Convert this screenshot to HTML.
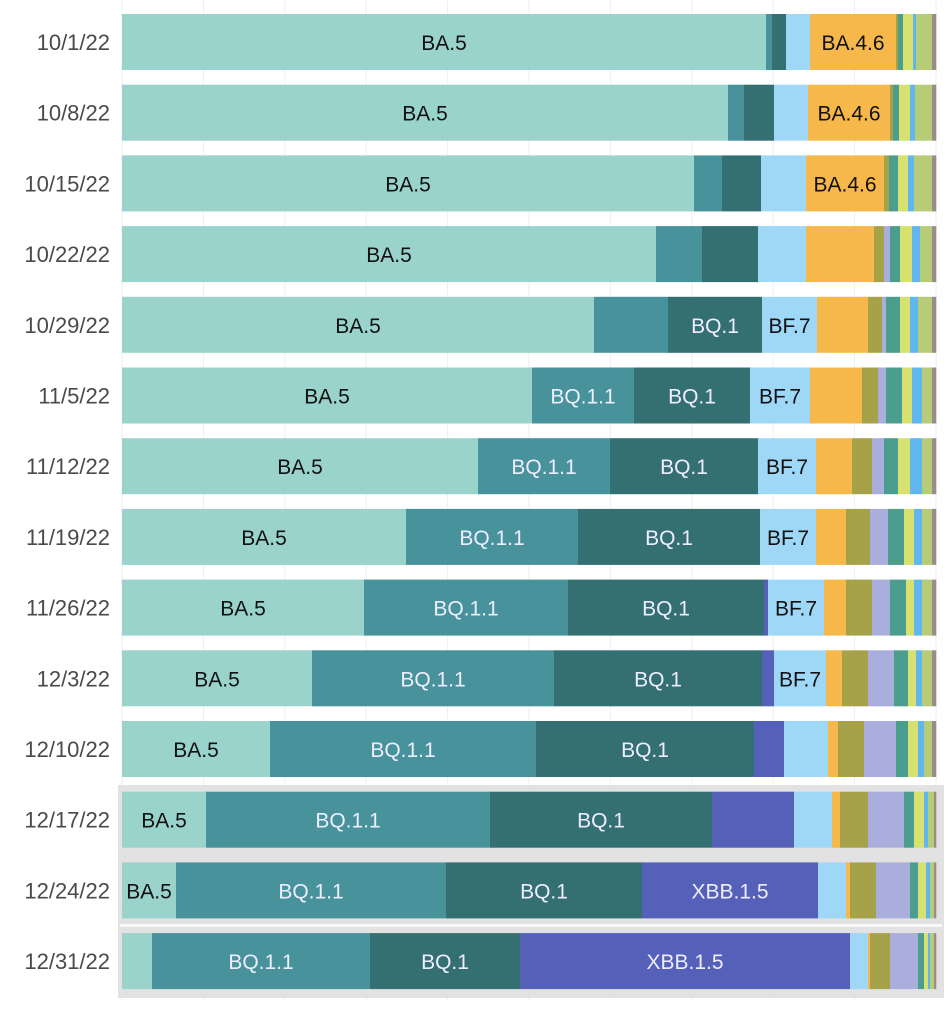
<!DOCTYPE html>
<html><head><meta charset="utf-8"><style>
body{margin:0;background:#fff;}
svg text{font-family:"Liberation Sans",sans-serif;}
</style></head><body>
<svg id="chart" width="948" height="1014" xmlns="http://www.w3.org/2000/svg">
<g id="grid"></g><g id="bands"></g><g id="bars"></g><g id="labels"></g>
</svg>
<script>
const categories=["10/1/22","10/8/22","10/15/22","10/22/22","10/29/22","11/5/22","11/12/22","11/19/22","11/26/22","12/3/22","12/10/22","12/17/22","12/24/22","12/31/22"];
const seriesNames=["BA.5","BQ.1.1","BQ.1","XBB.1.5","BF.7","BA.4.6","BN.1","BA.2.75.2","BA.2.75","BF.11","BA.2","BA.4","Other"];
const sBA5=[644,606,572,534,472,410,356,284,242,190,148,84,54,30];
const sBQ11=[6,16,28,46,74,102,132,172,204,242,266,284,270,218];
const sBQ1=[14,30,39,56,94,116,148,182,196,208,218,222,196,150];
const sXBB=[0,0,0,0,0,0,0,0,4,12,30,82,176,330];
const sBF7=[24,34,45,48,55,60,58,56,56,52,44,38,28,18];
const sBA46=[86,82,78,68,51,52,36,30,22,16,10,8,4,2];
const sBN1=[2,3,5,10,14,16,20,24,26,26,26,28,26,20];
const sBA2752=[0,0,0,6,4,8,12,18,18,26,32,36,34,28];
const sBA275=[5,6,9,10,14,16,14,16,16,14,12,10,8,6];
const sBF11=[10,11,10,12,10,10,12,10,8,8,10,10,8,4];
const sBA2=[3,5,6,8,8,10,12,8,8,6,6,4,4,2];
const sBA4=[16,17,18,12,14,10,10,10,10,10,8,6,4,4];
const sOther=[4,4,4,4,4,4,4,4,4,4,4,2,2,2];
const series=[sBA5,sBQ11,sBQ1,sXBB,sBF7,sBA46,sBN1,sBA2752,sBA275,sBF11,sBA2,sBA4,sOther];
const colors=["#99d3cb","#47929b","#346f72","#5561b8","#9fd7f7","#f6b84a","#a5a249","#aaaedd","#4b9d8e","#d6e170","#62b6ef","#b6cc77","#9b8c8c"];
const textColors=["#111","#eef","#eef","#eef","#111","#111"];
const thresholds=[40,90,90,100,50,75];
const NS="http://www.w3.org/2000/svg";
const X0=122,X1=936,Y0=14,PITCH=70.7,BH=56;
const xScale=f=>X0+f*(X1-X0);
const yScale=i=>Y0+i*PITCH;
function mk(t,a,p){const e=document.createElementNS(NS,t);for(const k in a)e.setAttribute(k,a[k]);p.appendChild(e);return e;}
const grid=document.getElementById('grid');
for(let k=0;k<=10;k++){const l=mk('line',{x1:xScale(k/10),x2:xScale(k/10),y1:0,y2:1000,stroke:'#eeeeee','stroke-width':1},grid);

}
const band=mk('rect',{x:118,y:785,width:826,height:213,fill:'#e2e2e2'},document.getElementById('bands'));


const sep=mk('rect',{x:120,y:924,width:822,height:3,fill:'#f8f8f8'},document.getElementById('bands'));


const bars=document.getElementById('bars'),labels=document.getElementById('labels');
categories.forEach((c,i)=>{
  const y=yScale(i);
  const t=mk('text',{x:110,y:y+BH/2+8,'text-anchor':'end','font-size':22,fill:'#4a4a4a'},labels);
  t.textContent=c;
  
  
  let total=0;series.forEach(s=>total+=s[i]);
  let cum=0;
  series.forEach((s,j)=>{
    const v=s[i];if(v<=0)return;
    const xa=xScale(cum/total),xb=xScale((cum+v)/total);cum+=v;
    const r=mk('rect',{x:xa,y:y,width:xb-xa+0.3,height:BH,fill:colors[j]},bars);
    
    
    if(j<6 && xb-xa>=thresholds[j]){
      const lt=mk('text',{x:(xa+xb)/2,y:y+BH/2+8,'text-anchor':'middle','font-size':21,fill:textColors[j]},labels);
      lt.textContent=seriesNames[j];
      
      
    }
  });
});
</script>
</body></html>
